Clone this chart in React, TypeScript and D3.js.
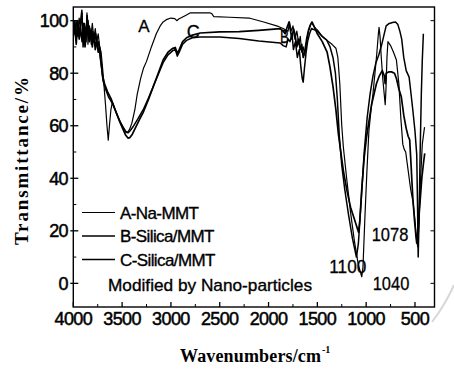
import React from "react";
import * as d3 from "d3";

const xTicks = [4000, 3500, 3000, 2500, 2000, 1500, 1000, 500];
const xMinor = [3750, 3250, 2750, 2250, 1750, 1250, 750];
const yTicks = [0, 20, 40, 60, 80, 100];
const yMinor = [10, 30, 50, 70, 90];

const seriesNames = ["A-Na-MMT", "B-Silica/MMT", "C-Silica/MMT"];

const seriesA: [number, number][] = [
  [4000, 99], [3985, 96], [3970, 100], [3955, 94], [3940, 101], [3925, 97], [3910, 103], [3900, 92],
  [3885, 99], [3870, 95], [3860, 103], [3850, 91], [3835, 98], [3820, 94], [3805, 99], [3790, 93],
  [3775, 97], [3760, 92], [3745, 95], [3730, 90], [3715, 88], [3700, 82], [3685, 75], [3670, 68],
  [3655, 60], [3642, 54.5], [3630, 60], [3615, 66], [3600, 69], [3580, 67], [3550, 64], [3520, 61.5],
  [3490, 59.5], [3465, 58], [3445, 57.5], [3425, 58.5], [3400, 61], [3370, 66], [3345, 72], [3310, 78],
  [3280, 82], [3250, 84.5], [3200, 90], [3150, 95], [3110, 98], [3080, 99.5], [3040, 100.5], [3000, 101],
  [2960, 100.8], [2940, 100], [2920, 100.6], [2880, 101.4], [2850, 102], [2800, 103], [2700, 103],
  [2600, 103], [2580, 102.6], [2560, 101.5], [2400, 101.3], [2200, 101], [2050, 99.5], [1900, 97.8],
  [1850, 97], [1800, 96], [1785, 99.5], [1770, 96], [1750, 98], [1730, 93], [1710, 96], [1690, 91],
  [1675, 94], [1660, 88], [1645, 90], [1630, 87], [1610, 92], [1590, 96], [1570, 98.5], [1555, 99],
  [1530, 97.5], [1500, 96.5], [1450, 94], [1400, 92.5], [1350, 91], [1310, 89.5], [1290, 86], [1270, 76],
  [1250, 60], [1234, 52], [1200, 40], [1160, 27], [1120, 16], [1080, 7], [1045, 2.5], [1033, 6],
  [1013, 25], [992, 43], [972, 58], [950, 66], [931, 72], [910, 80], [890, 88], [875, 95], [868, 97.5],
  [858, 94], [845, 86], [830, 78], [815, 72], [805, 68], [797, 74], [787, 86], [777, 92], [750, 90.5],
  [720, 88], [690, 85], [665, 76], [645, 63], [625, 53], [610, 51], [595, 50], [570, 43], [545, 36],
  [520, 31], [500, 24], [485, 17], [472, 14], [460, 22], [445, 38], [425, 53], [402, 59.5],
];

const seriesB: [number, number][] = [
  [4000, 96], [3985, 100], [3970, 93], [3955, 98], [3940, 95], [3925, 100], [3912, 104], [3900, 90],
  [3885, 97], [3870, 92], [3858, 102], [3845, 94], [3830, 97], [3815, 91], [3800, 96], [3785, 92],
  [3770, 95], [3755, 90], [3740, 92], [3725, 86], [3710, 82], [3695, 77], [3670, 74], [3640, 71],
  [3600, 68.5], [3560, 65], [3520, 61.5], [3490, 59.5], [3460, 57.5], [3440, 57.3], [3420, 58],
  [3390, 59.5], [3340, 62.5], [3285, 66], [3230, 70.5], [3180, 75], [3130, 79.5], [3080, 84],
  [3030, 87], [2980, 88.6], [2955, 89], [2935, 86.5], [2915, 88], [2880, 91], [2840, 92.5],
  [2780, 93.5], [2700, 93.8], [2500, 93.8], [2300, 93.2], [2100, 92.3], [1880, 91.5], [1850, 90.5],
  [1820, 90], [1800, 93], [1780, 92], [1760, 95], [1745, 89], [1725, 92], [1705, 86], [1685, 89],
  [1668, 82], [1655, 78], [1645, 76.6], [1632, 82], [1615, 88], [1600, 92], [1580, 95], [1560, 97],
  [1530, 96.5], [1500, 96], [1450, 94], [1404, 92.6], [1370, 90], [1340, 86], [1315, 80], [1295, 70],
  [1275, 56], [1250, 45], [1220, 36], [1180, 26], [1140, 17], [1100, 10], [1080, 15], [1050, 32],
  [1020, 50], [990, 63], [960, 72], [930, 79], [900, 84], [870, 87], [840, 91], [815, 95], [795, 98],
  [770, 98.8], [730, 99.3], [700, 99.5], [675, 98.5], [655, 96], [636, 93], [615, 86], [590, 81],
  [560, 78.5], [540, 72], [522, 66], [500, 58], [482, 49], [474, 30], [467, 10], [458, 25], [447, 50],
  [435, 72], [425, 85], [414, 95],
];

const seriesC: [number, number][] = [
  [4000, 94], [3985, 98], [3970, 91], [3955, 100], [3940, 93], [3925, 97], [3910, 92], [3895, 99],
  [3880, 90], [3865, 96], [3850, 100], [3835, 92], [3820, 96], [3805, 90], [3790, 95], [3775, 89],
  [3760, 93], [3745, 88], [3730, 90], [3715, 84], [3700, 79], [3680, 76], [3650, 73], [3610, 70],
  [3570, 66], [3530, 62], [3495, 59], [3465, 56.5], [3440, 55.3], [3420, 55.5], [3395, 56.8],
  [3360, 59.5], [3320, 62.5], [3285, 65], [3230, 70], [3180, 75], [3130, 80], [3080, 85], [3030, 88],
  [2980, 89.5], [2955, 89.8], [2935, 87.5], [2915, 89], [2880, 92], [2840, 93.5], [2780, 94.5],
  [2700, 95.3], [2500, 95.7], [2300, 95.8], [2100, 96.3], [1880, 97], [1850, 96], [1830, 95],
  [1810, 97.5], [1790, 99.5], [1775, 96], [1760, 93], [1745, 97], [1730, 95], [1710, 90], [1695, 93],
  [1675, 89], [1660, 91], [1645, 86], [1630, 88], [1610, 93], [1590, 96.5], [1570, 98.5], [1555, 99.5],
  [1530, 97.5], [1500, 95], [1450, 92], [1400, 88], [1371, 82.4], [1340, 75], [1310, 66], [1285, 57],
  [1260, 50], [1230, 42], [1195, 35], [1160, 29], [1125, 25], [1100, 22], [1078, 19.5], [1065, 24],
  [1045, 36], [1020, 48], [995, 56], [970, 62], [945, 68], [920, 72], [895, 76], [865, 79], [835, 81],
  [815, 79], [805, 76], [795, 80], [770, 80.5], [740, 80.5], [710, 80], [690, 78], [665, 74], [640, 71],
  [615, 64], [590, 59], [570, 56], [554, 54.6], [540, 45], [523, 33], [505, 24], [490, 18], [482, 15.3],
  [470, 20], [450, 30], [430, 40], [412, 46], [400, 49.5],
];

const W = 454;
const H = 373;
const left = 73.3, right = 434.5, top = 7, bottom = 307;

export default function App() {
  const x = d3.scaleLinear().domain([4000, 300]).range([left, right]);
  const y = d3.scaleLinear().domain([-9, 105.2]).range([bottom, top]);
  const line = d3
    .line<[number, number]>()
    .x((d) => x(d[0]))
    .y((d) => y(d[1]));
  const sans = "'Liberation Sans', Arial, sans-serif";
  const serif = "'Liberation Serif', 'DejaVu Serif', serif";
  const widths = [1.2, 1.5, 1.7];
  const series = [seriesA, seriesB, seriesC];
  const legendY = [212.5, 236, 259.5];

  return (
    <svg
      width={W}
      height={H}
      viewBox={`0 0 ${W} ${H}`}
      style={{ position: "absolute", left: 0, top: 0, background: "#fff" }}
    >
      <rect x={0} y={0} width={W} height={H} fill="#fff" />
      <defs>
        <clipPath id="plot">
          <rect x={left} y={top} width={right - left} height={bottom - top} />
        </clipPath>
      </defs>
      <rect x={left} y={top} width={right - left} height={bottom - top} fill="none" stroke="#000" strokeWidth={1.4} />
      {xTicks.map((t) => (
        <g key={"xt" + t}>
          <line x1={x(t)} x2={x(t)} y1={bottom} y2={bottom - 5} stroke="#000" strokeWidth={1.3} />
          <text x={x(t)} y={325} textAnchor="middle" fontFamily={sans} fontSize={18} stroke="#000" strokeWidth={0.5} letterSpacing={-0.6}>
            {t}
          </text>
        </g>
      ))}
      {xMinor.map((t) => (
        <line key={"xm" + t} x1={x(t)} x2={x(t)} y1={bottom} y2={bottom - 3} stroke="#000" strokeWidth={1} />
      ))}
      {yTicks.map((t) => (
        <g key={"yt" + t}>
          <line x1={left - 3} x2={left + 5} y1={y(t)} y2={y(t)} stroke="#000" strokeWidth={1.3} />
          <line x1={right} x2={right - 4} y1={y(t)} y2={y(t)} stroke="#000" strokeWidth={1} />
          <text x={68} y={y(t)} dy="0.36em" textAnchor="end" fontFamily={sans} fontSize={18} stroke="#000" strokeWidth={0.5} letterSpacing={-0.6}>
            {t}
          </text>
        </g>
      ))}
      {yMinor.map((t) => (
        <line key={"ym" + t} x1={left} x2={left + 3} y1={y(t)} y2={y(t)} stroke="#000" strokeWidth={1} />
      ))}
      <g clipPath="url(#plot)">
        {series.map((s, i) => (
          <path key={"s" + i} d={line(s) || ""} fill="none" stroke="#000" strokeWidth={widths[i]} strokeLinejoin="round" />
        ))}
      </g>
      <text x={138.3} y={31.7} fontFamily={sans} fontSize={17} stroke="#000" strokeWidth={0.3}>A</text>
      <text x={186.7} y={37.7} fontFamily={sans} fontSize={18} stroke="#000" strokeWidth={0.3}>C</text>
      <text x={280} y={42.7} fontFamily={sans} fontSize={18} textLength={9} lengthAdjust="spacingAndGlyphs" stroke="#000" strokeWidth={0.3}>B</text>
      <text x={371.7} y={240.7} fontFamily={sans} fontSize={19} textLength={36.6} lengthAdjust="spacingAndGlyphs" stroke="#000" strokeWidth={0.3}>1078</text>
      <text x={329.3} y={273} fontFamily={sans} fontSize={19} textLength={37} lengthAdjust="spacingAndGlyphs" stroke="#000" strokeWidth={0.3}>1100</text>
      <text x={372.7} y={290} fontFamily={sans} fontSize={19} textLength={36.6} lengthAdjust="spacingAndGlyphs" stroke="#000" strokeWidth={0.3}>1040</text>
      {seriesNames.map((n, i) => (
        <g key={"lg" + i}>
          <line x1={82} x2={115} y1={legendY[i]} y2={legendY[i]} stroke="#000" strokeWidth={widths[i]} />
          <text x={120} y={legendY[i] + 6.3} fontFamily={sans} fontSize={17} letterSpacing={-0.6} stroke="#000" strokeWidth={0.35}>
            {n}
          </text>
        </g>
      ))}
      <text x={108} y={290.5} fontFamily={sans} fontSize={17} textLength={204} lengthAdjust="spacingAndGlyphs" stroke="#000" strokeWidth={0.35}>
        Modified by Nano-particles
      </text>
      <text
        transform="translate(28,161) rotate(-90)"
        textAnchor="middle"
        fontFamily={serif}
        fontWeight="bold"
        fontSize={19}
        textLength={168}
        lengthAdjust="spacing"
      >
        Transmittance/%
      </text>
      <text x={180} y={362} fontFamily={serif} fontWeight="bold" fontSize={18} textLength={141} lengthAdjust="spacing">
        Wavenumbers/cm
      </text>
      <text x={322} y={353} fontFamily={serif} fontWeight="bold" fontSize={10}>
        -1
      </text>
      <path d="M 454 285 Q 445 305 432 322" fill="none" stroke="#d8d8d8" strokeWidth={2} />
    </svg>
  );
}
